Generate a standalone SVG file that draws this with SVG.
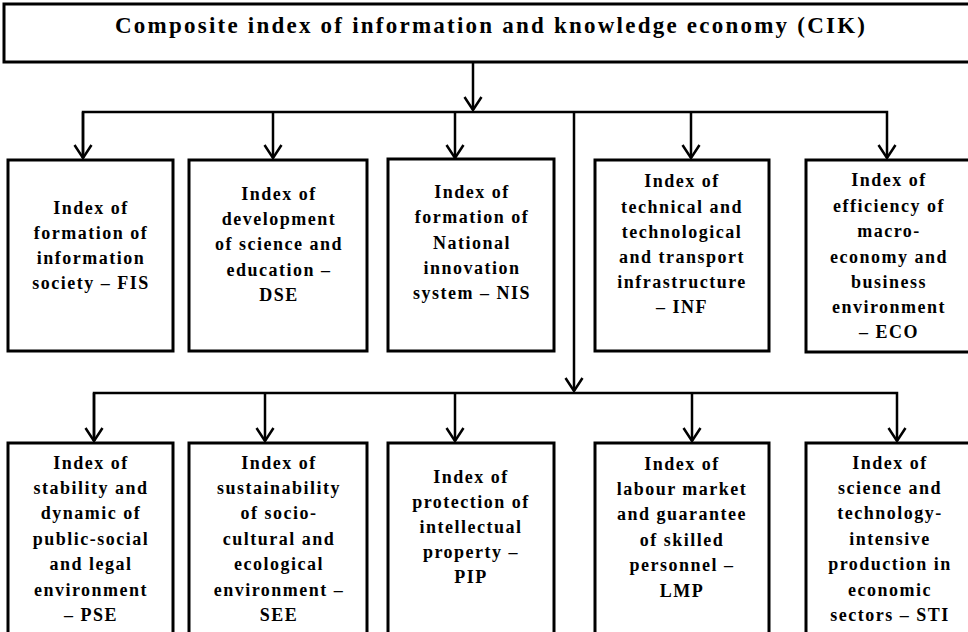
<svg xmlns="http://www.w3.org/2000/svg" width="968" height="632" viewBox="0 0 968 632">
<defs>
<style>
.box{fill:#fff;stroke:#000;stroke-width:3}
.ln{fill:none;stroke:#000;stroke-width:2.5}
.t{font-family:"Liberation Serif","Times New Roman",serif;font-weight:bold;font-size:18px;letter-spacing:1.5px;text-anchor:middle;fill:#000}
.title{font-family:"Liberation Serif","Times New Roman",serif;font-weight:bold;font-size:23px;text-anchor:middle;fill:#000}
</style>
<marker id="arr" viewBox="-15 -10 17 20" refX="0" refY="0" markerWidth="17" markerHeight="20" markerUnits="userSpaceOnUse" orient="auto">
<path d="M-13,-8.5 L0,0 L-13,8.5" fill="none" stroke="#000" stroke-width="2.5"/>
</marker>
</defs>
<rect width="968" height="632" fill="#fff"/>

<g id="connectors">
<path class="ln" d="M473,62 V110" marker-end="url(#arr)"/>
<path class="ln" d="M83,158 V112 H887 V158" marker-end="url(#arr)"/>
<path class="ln" d="M83,112 V158" marker-end="url(#arr)"/>
<path class="ln" d="M273,112 V158" marker-end="url(#arr)"/>
<path class="ln" d="M455,112 V158" marker-end="url(#arr)"/>
<path class="ln" d="M691,112 V158" marker-end="url(#arr)"/>
<path class="ln" d="M574,112 V391" marker-end="url(#arr)"/>
<path class="ln" d="M94,441 V393 H897 V441" marker-end="url(#arr)"/>
<path class="ln" d="M94,393 V441" marker-end="url(#arr)"/>
<path class="ln" d="M265,393 V441" marker-end="url(#arr)"/>
<path class="ln" d="M455,393 V441" marker-end="url(#arr)"/>
<path class="ln" d="M692,393 V441" marker-end="url(#arr)"/>
</g>

<g id="cik">
<rect class="box" x="4" y="4" width="980" height="58"/>
<text class="title" x="490" y="33" textLength="750" lengthAdjust="spacing">Composite index of information and knowledge economy (CIK)</text>
</g>

<g id="fis">
<rect class="box" x="8" y="160" width="165" height="191"/>
<text class="t" x="91" y="214">Index of</text>
<text class="t" x="91" y="239">formation of</text>
<text class="t" x="91" y="264">information</text>
<text class="t" x="91" y="289">society – FIS</text>
</g>

<g id="dse">
<rect class="box" x="189" y="160" width="178" height="191"/>
<text class="t" x="279" y="200">Index of</text>
<text class="t" x="279" y="225">development</text>
<text class="t" x="279" y="250">of science and</text>
<text class="t" x="279" y="276">education –</text>
<text class="t" x="279" y="301">DSE</text>
</g>

<g id="nis">
<rect class="box" x="388" y="159" width="166" height="192"/>
<text class="t" x="472" y="198">Index of</text>
<text class="t" x="472" y="223">formation of</text>
<text class="t" x="472" y="249">National</text>
<text class="t" x="472" y="274">innovation</text>
<text class="t" x="472" y="299">system – NIS</text>
</g>

<g id="inf">
<rect class="box" x="595" y="160" width="174" height="191"/>
<text class="t" x="682" y="187">Index of</text>
<text class="t" x="682" y="213">technical and</text>
<text class="t" x="682" y="238">technological</text>
<text class="t" x="682" y="263">and transport</text>
<text class="t" x="682" y="288">infrastructure</text>
<text class="t" x="682" y="313">– INF</text>
</g>

<g id="eco">
<rect class="box" x="806" y="160" width="180" height="192"/>
<text class="t" x="889" y="186">Index of</text>
<text class="t" x="889" y="212">efficiency of</text>
<text class="t" x="889" y="237">macro-</text>
<text class="t" x="889" y="263">economy and</text>
<text class="t" x="889" y="288">business</text>
<text class="t" x="889" y="313">environment</text>
<text class="t" x="889" y="338">– ECO</text>
</g>

<g id="pse">
<rect class="box" x="8" y="443" width="165" height="210"/>
<text class="t" x="91" y="469">Index of</text>
<text class="t" x="91" y="494">stability and</text>
<text class="t" x="91" y="519">dynamic of</text>
<text class="t" x="91" y="545">public-social</text>
<text class="t" x="91" y="570">and legal</text>
<text class="t" x="91" y="596">environment</text>
<text class="t" x="91" y="621">– PSE</text>
</g>

<g id="see">
<rect class="box" x="189" y="443" width="178" height="210"/>
<text class="t" x="279" y="469">Index of</text>
<text class="t" x="279" y="494">sustainability</text>
<text class="t" x="279" y="519">of socio-</text>
<text class="t" x="279" y="545">cultural and</text>
<text class="t" x="279" y="570">ecological</text>
<text class="t" x="279" y="596">environment –</text>
<text class="t" x="279" y="621">SEE</text>
</g>

<g id="pip">
<rect class="box" x="388" y="443" width="166" height="210"/>
<text class="t" x="471" y="483">Index of</text>
<text class="t" x="471" y="508">protection of</text>
<text class="t" x="471" y="533">intellectual</text>
<text class="t" x="471" y="558">property –</text>
<text class="t" x="471" y="583">PIP</text>
</g>

<g id="lmp">
<rect class="box" x="595" y="443" width="174" height="210"/>
<text class="t" x="682" y="470">Index of</text>
<text class="t" x="682" y="495">labour market</text>
<text class="t" x="682" y="520">and guarantee</text>
<text class="t" x="682" y="546">of skilled</text>
<text class="t" x="682" y="571">personnel –</text>
<text class="t" x="682" y="597">LMP</text>
</g>

<g id="sti">
<rect class="box" x="806" y="443" width="180" height="210"/>
<text class="t" x="890" y="469">Index of</text>
<text class="t" x="890" y="494">science and</text>
<text class="t" x="890" y="519">technology-</text>
<text class="t" x="890" y="545">intensive</text>
<text class="t" x="890" y="570">production in</text>
<text class="t" x="890" y="596">economic</text>
<text class="t" x="890" y="621">sectors – STI</text>
</g>
</svg>
